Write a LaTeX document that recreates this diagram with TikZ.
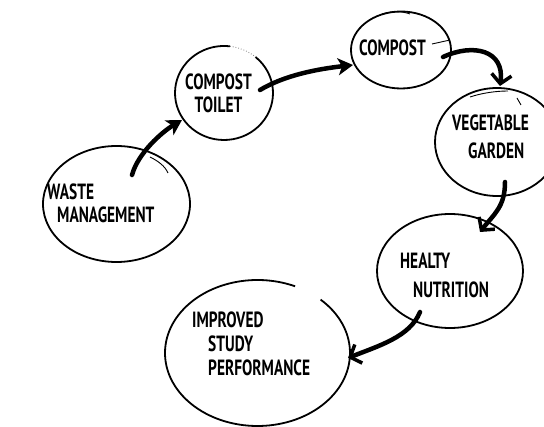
\documentclass[tikz,border=0pt]{standalone}
\usepackage{fontspec}
\newfontfamily\hand[FakeStretch=0.7]{PT Sans}
\usetikzlibrary{shapes.geometric,arrows.meta,calc}
\begin{document}
\begin{tikzpicture}[x=1pt,y=-1pt,
  bubble/.style={ellipse, draw, line width=1.8pt, inner sep=0pt},
  ghost/.style={ellipse, inner sep=0pt},
  ring/.style={line width=1.8pt},
  lbl/.style={inner sep=0pt, font=\hand\bfseries\fontsize{22}{23}\selectfont},
  flow/.style={line width=4.5pt, line cap=round},
  barb/.style={-{Straight Barb[length=9pt,width=20pt,line width=3.5pt]}},
  fat/.style={-{Stealth[length=15pt,width=17pt,inset=4pt]}},
  scrib/.style={line width=0.9pt}]
\clip (0,0) rectangle (544,427);
\fill[white] (0,0) rectangle (544,427);

% bubbles
\node[bubble, minimum width=147pt, minimum height=116pt] (waste) at (116.5,204) {};
\node[ghost, minimum width=98pt, minimum height=94pt] (toilet) at (224,93) {};
\draw[ring] ($(toilet.center)+({49*cos(-50)},{47*sin(-50)})$) arc[start angle=-50, end angle=277, x radius=49, y radius=47];
\draw[gray, line width=0.8pt, dotted] ($(toilet.center)+({49*cos(-83)},{47*sin(-83)})$) arc[start angle=-83, end angle=-50, x radius=49, y radius=47];
\node[bubble, minimum width=100pt, minimum height=77pt] (compost) at (401,50) {};
\node[bubble, minimum width=124pt, minimum height=108pt] (veg) at (497,142) {};
\node[bubble, minimum width=146pt, minimum height=114pt] (nut) at (450,271) {};
\node[ghost, minimum width=185pt, minimum height=146pt] (imp) at (257.5,353) {};
\draw[ring] ($(imp.center)+({92.5*cos(-47)},{73*sin(-47)})$) arc[start angle=-47, end angle=294, x radius=92.5, y radius=73];

% sketchy extra strokes
\draw[scrib] (150,157) .. controls (158,161) and (165,166) .. (168,173);
\draw[scrib] (382,14) .. controls (392,11) and (402,11) .. (410,14);
\draw[scrib] (432,44) -- (450,40);
\draw[scrib] (470,97) .. controls (482,93) and (496,91) .. (508,91);
\draw[scrib] (517,98) -- (521,105);

% labels
\node[lbl, anchor=west, align=left] (wasteT) at (47,203) {WASTE\\\hspace{10pt}MANAGEMENT};
\node[lbl, align=center] (toiletT) at (218.5,93) {COMPOST\\TOILET};
\node[lbl] (compostT) at (392.5,48) {COMPOST};
\node[lbl, anchor=west, align=left] (vegT) at (452,137) {VEGETABLE\\[5pt]\hspace{16pt}GARDEN};
\node[lbl, anchor=west, align=left] (nutT) at (400,275) {HEALTY\\[6pt]\hspace{13pt}NUTRITION};
\node[lbl, anchor=west, align=left] (impT) at (192,344) {IMPROVED\\[1pt]\hspace{16pt}STUDY\\[1pt]\hspace{16pt}PERFORMANCE};

% connectors
\draw[flow,fat] ($(waste.center)+(15.5,-29)$) .. controls +(6,-22) and +(-20,12) .. ($(toilet.center)+(-42,27)$);
\draw[flow,fat] ($(toilet.center)+(36,-3)$) .. controls +(25,-15) and +(-35,4) .. ($(compost.center)+(-48,15)$);
\draw[flow,barb] ($(compost.center)+(42,7)$) .. controls +(30,-14) and +(5,-36) .. ($(veg.center)+(3,-56)$);
\draw[flow,barb] ($(veg.center)+(8,40)$) .. controls +(0,25) and +(14,-18) .. ($(nut.center)+(30,-39)$);
\draw[flow,barb] ($(nut.center)+(-30,41)$) .. controls +(-10,25) and +(30,-12) .. ($(imp.center)+(90.5,5)$);
\end{tikzpicture}
\end{document}
